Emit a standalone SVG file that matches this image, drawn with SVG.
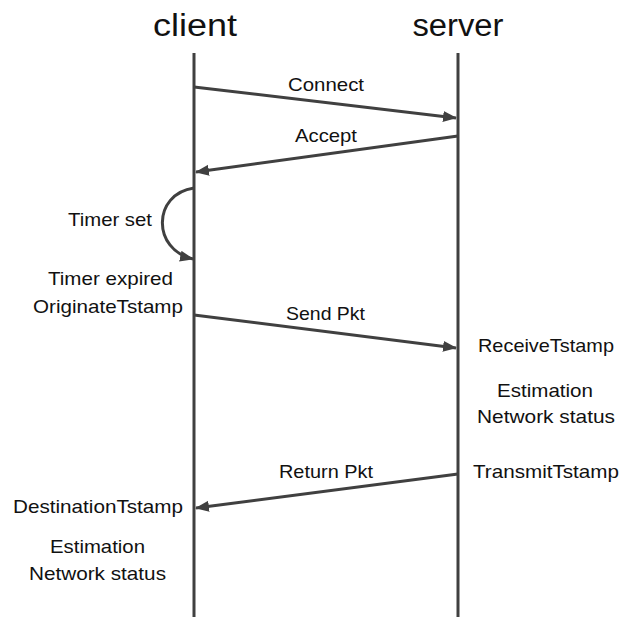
<svg xmlns="http://www.w3.org/2000/svg" width="634" height="617" viewBox="0 0 634 617">
<defs>
<marker id="ah" markerUnits="userSpaceOnUse" markerWidth="14" markerHeight="12" refX="13" refY="5.5" orient="auto">
<path d="M0,0 L14,5.5 L0,11 z" fill="#404040"/>
</marker>
<style>
.t{font-family:"Liberation Sans",Arial,sans-serif;font-size:18.5px;fill:#111;text-anchor:middle}
.h{font-family:"Liberation Sans",Arial,sans-serif;font-size:31px;fill:#111;text-anchor:middle}
.life{stroke:#404040;stroke-width:3;fill:none}
.msg{stroke:#404040;stroke-width:3;fill:none;marker-end:url(#ah)}
</style>
</defs>
<rect width="634" height="617" fill="#fff"/>
<g id="client">
<text class="h" x="195" y="36" textLength="84" lengthAdjust="spacingAndGlyphs">client</text>
<line class="life" x1="194" y1="53" x2="194" y2="617"/>
</g>
<g id="server">
<text class="h" x="458" y="36" textLength="91" lengthAdjust="spacingAndGlyphs">server</text>
<line class="life" x1="458" y1="53" x2="458" y2="617"/>
</g>
<g id="connectors">
<line class="msg" x1="194" y1="87" x2="456" y2="118"/>
<line class="msg" x1="458" y1="136" x2="196" y2="172"/>
<path class="msg" d="M194,188 C152,194 152,250 193,259"/>
<line class="msg" x1="194" y1="315" x2="456" y2="348"/>
<line class="msg" x1="458" y1="474" x2="196" y2="508"/>
</g>
<g id="labels">
<text class="t" x="326" y="91" textLength="76" lengthAdjust="spacingAndGlyphs">Connect</text>
<text class="t" x="326" y="142" textLength="62" lengthAdjust="spacingAndGlyphs">Accept</text>
<text class="t" x="110" y="226" textLength="84" lengthAdjust="spacingAndGlyphs">Timer set</text>
<text class="t" x="110.5" y="285" textLength="125" lengthAdjust="spacingAndGlyphs">Timer expired</text>
<text class="t" x="108" y="313" textLength="150" lengthAdjust="spacingAndGlyphs">OriginateTstamp</text>
<text class="t" x="325.5" y="320" textLength="79" lengthAdjust="spacingAndGlyphs">Send Pkt</text>
<text class="t" x="546" y="352" textLength="136" lengthAdjust="spacingAndGlyphs">ReceiveTstamp</text>
<text class="t" x="545" y="397" textLength="96" lengthAdjust="spacingAndGlyphs">Estimation</text>
<text class="t" x="546" y="423" textLength="138" lengthAdjust="spacingAndGlyphs">Network status</text>
<text class="t" x="326" y="478" textLength="94" lengthAdjust="spacingAndGlyphs">Return Pkt</text>
<text class="t" x="546" y="478" textLength="146" lengthAdjust="spacingAndGlyphs">TransmitTstamp</text>
<text class="t" x="98" y="513" textLength="170" lengthAdjust="spacingAndGlyphs">DestinationTstamp</text>
<text class="t" x="97.5" y="553" textLength="95" lengthAdjust="spacingAndGlyphs">Estimation</text>
<text class="t" x="97.5" y="580" textLength="137" lengthAdjust="spacingAndGlyphs">Network status</text>
</g>
</svg>
